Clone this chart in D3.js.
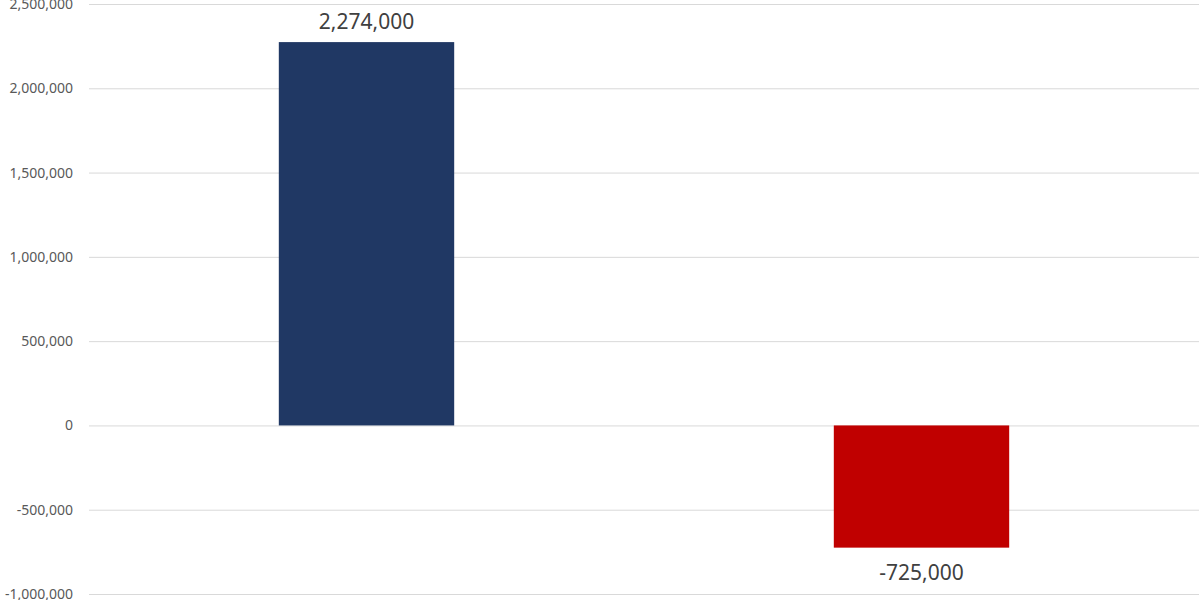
<!DOCTYPE html>
<html>
<head>
<meta charset="utf-8">
<script src="https://cdn.jsdelivr.net/npm/d3@7"></script>
<style>
  body { margin: 0; background: #fff; }
  text { font-family: "Noto Sans", "Open Sans", sans-serif; }
</style>
</head>
<body>
<div id="chart"></div>
<script>
// chart data
var categories = ["Series 1", "Series 2"];
var values = [2274000, -725000];
var barColors = ["#203864", "#C00000"];
var tickValues = [-1000000, -500000, 0, 500000, 1000000, 1500000, 2000000, 2500000];

var width = 1200,
    height = 600;

var margin = { top: 4, right: 1, bottom: 6, left: 89 };

var svg = d3.select("#chart").append("svg")
    .attr("width", width)
    .attr("height", height);

var x = d3.scaleBand()
    .domain(categories)
    .range([margin.left, width - margin.right])
    .paddingInner(0.684)
    .paddingOuter(0.342);

var y = d3.scaleLinear()
    .domain([-1000000, 2500000])
    .range([height - margin.bottom, margin.top]);

// plain hyphen for negatives, like the reference
var fmt = d3.formatLocale({
    decimal: ".", thousands: ",", grouping: [3], currency: ["", ""], minus: "-"
}).format(",");

// gridlines + tick labels
var yAxis = svg.append("g")
    .attr("transform", "translate(" + margin.left + ",0)")
    .call(d3.axisLeft(y)
        .tickValues(tickValues)
        .tickFormat(fmt)
        .tickSize(-(width - margin.left - margin.right))
        .tickPadding(16));

yAxis.select(".domain").remove();
yAxis.selectAll(".tick line")
    .attr("stroke", "#d9d9d9")
    .attr("stroke-width", 1);
yAxis.selectAll(".tick text")
    .attr("fill", "#595959")
    .style("font-size", "14px");

// bars
svg.append("g")
    .selectAll("rect")
    .data(values)
    .enter().append("rect")
    .attr("x", function (d, i) { return x(categories[i]); })
    .attr("width", x.bandwidth())
    .attr("y", function (d) { return y(Math.max(0, d)); })
    .attr("height", function (d) { return Math.abs(y(d) - y(0)); })
    .attr("fill", function (d, i) { return barColors[i]; });

// value labels
svg.append("g")
    .selectAll("text")
    .data(values)
    .enter().append("text")
    .attr("x", function (d, i) { return x(categories[i]) + x.bandwidth() / 2; })
    .attr("y", function (d) { return d >= 0 ? y(d) - 13 : y(d) + 32; })
    .attr("text-anchor", "middle")
    .attr("fill", "#404040")
    .style("font-size", "21px")
    .text(function (d) { return fmt(d); });
</script>
</body>
</html>
